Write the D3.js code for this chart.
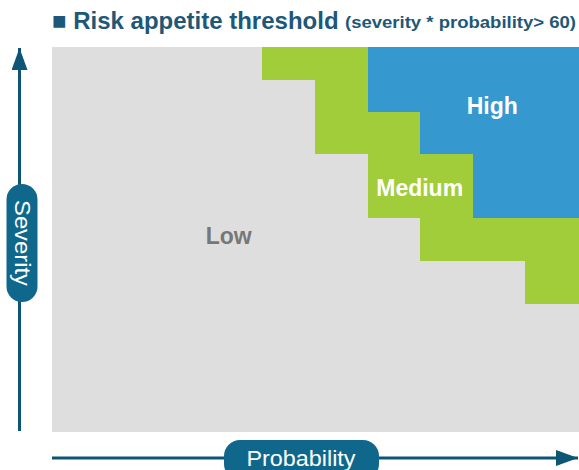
<!DOCTYPE html>
<html>
<head>
<meta charset="utf-8">
<script src="https://cdn.jsdelivr.net/npm/d3@7"></script>
<style>
  html, body { margin: 0; padding: 0; background: #ffffff; }
  svg { display: block; font-family: "Liberation Sans", Arial, Helvetica, sans-serif; }
</style>
</head>
<body>
<svg id="chart" width="579" height="470"></svg>
<script>
// Probability columns (1..10) and the severity level (on a 0..36 scale)
// at which each column enters the Medium and High zones.
const probability = [1, 2, 3, 4, 5, 6, 7, 8, 9, 10];
const mediumFrom  = [null, null, null, null, 33, 26, 20, 16, 16, 12];
const highFrom    = [null, null, null, null, null, null, 30, 26, 20, 20];
const severityMax = 36;

const zoneNames  = ["Low", "Medium", "High"];
const zoneColors = ["#dedede", "#a2cd3b", "#3598cf"];
const zoneText   = ["#777777", "#ffffff", "#ffffff"];

const titleMain = "■ Risk appetite threshold";
const titleSub  = "(severity * probability> 60)";
const xAxisLabel = "Probability";
const yAxisLabel = "Severity";

const svg = d3.select("#chart");
const plot = { left: 52, right: 578, top: 47, bottom: 431 };

const x = d3.scaleLinear().domain([0, probability.length]).range([plot.left, plot.right]);
const y = d3.scaleLinear().domain([0, severityMax]).range([plot.bottom, plot.top]);

// Build one segment per column per zone
const segments = [];
probability.forEach((p, i) => {
  const m = mediumFrom[i] == null ? severityMax : mediumFrom[i];
  const h = highFrom[i] == null ? severityMax : highFrom[i];
  segments.push({ p, zone: 0, from: 0, to: m });
  if (m < h) segments.push({ p, zone: 1, from: m, to: h });
  if (h < severityMax) segments.push({ p, zone: 2, from: h, to: severityMax });
});

svg.append("g")
  .selectAll("rect")
  .data(segments)
  .join("rect")
  .attr("x", d => x(d.p - 1))
  .attr("width", d => x(d.p) - x(d.p - 1) + 0.5)
  .attr("y", d => y(d.to))
  .attr("height", d => y(d.from) - y(d.to) + 0.5)
  .attr("fill", d => zoneColors[d.zone])
  .attr("shape-rendering", "crispEdges");

// Zone labels, anchored in data units
const labelAnchors = [
  { zone: 0, px: 3.36, sv: 17.5 },
  { zone: 1, px: 6.99, sv: 22.0 },
  { zone: 2, px: 8.37, sv: 29.7 }
];
svg.append("g")
  .selectAll("text")
  .data(labelAnchors)
  .join("text")
  .attr("x", d => x(d.px))
  .attr("y", d => y(d.sv))
  .attr("text-anchor", "middle")
  .attr("font-weight", "bold")
  .attr("font-size", 23)
  .attr("fill", d => zoneText[d.zone])
  .text(d => zoneNames[d.zone]);

// Title
svg.append("text")
  .attr("x", 52).attr("y", 29)
  .attr("font-size", 24).attr("font-weight", "bold")
  .attr("fill", "#1e5878")
  .text(titleMain);
svg.append("text")
  .attr("x", 345).attr("y", 28)
  .attr("font-size", 17).attr("font-weight", "bold")
  .attr("fill", "#1e5878")
  .attr("textLength", 231).attr("lengthAdjust", "spacingAndGlyphs")
  .text(titleSub);

// Axis arrows
const axisColor = "#0c5575";
const pillColor = "#0f688c";
const defs = svg.append("defs");
defs.append("marker")
  .attr("id", "arrow")
  .attr("viewBox", "0 0 22 16")
  .attr("refX", 22).attr("refY", 8)
  .attr("markerWidth", 22).attr("markerHeight", 16)
  .attr("markerUnits", "userSpaceOnUse")
  .attr("orient", "auto")
  .append("path")
  .attr("d", "M0,0 L22,8 L0,16 Z")
  .attr("fill", axisColor);

svg.append("line")
  .attr("x1", 19.5).attr("y1", plot.bottom)
  .attr("x2", 19.5).attr("y2", 48)
  .attr("stroke", axisColor).attr("stroke-width", 3)
  .attr("marker-end", "url(#arrow)");

svg.append("line")
  .attr("x1", plot.left).attr("y1", 458)
  .attr("x2", 578).attr("y2", 458)
  .attr("stroke", axisColor).attr("stroke-width", 3)
  .attr("marker-end", "url(#arrow)");

// Severity pill
svg.append("rect")
  .attr("x", 6.5).attr("y", 184)
  .attr("width", 31).attr("height", 118)
  .attr("rx", 15.5).attr("ry", 15.5)
  .attr("fill", pillColor);
svg.append("text")
  .attr("transform", "translate(15,243) rotate(90)")
  .attr("text-anchor", "middle")
  .attr("font-size", 22)
  .attr("fill", "#ffffff")
  .attr("textLength", 86).attr("lengthAdjust", "spacingAndGlyphs")
  .text(yAxisLabel);

// Probability pill
svg.append("rect")
  .attr("x", 224).attr("y", 440)
  .attr("width", 155).attr("height", 40)
  .attr("rx", 16).attr("ry", 16)
  .attr("fill", pillColor);
svg.append("text")
  .attr("x", 301).attr("y", 466)
  .attr("text-anchor", "middle")
  .attr("font-size", 22)
  .attr("fill", "#ffffff")
  .attr("textLength", 109).attr("lengthAdjust", "spacingAndGlyphs")
  .text(xAxisLabel);
</script>
</body>
</html>
